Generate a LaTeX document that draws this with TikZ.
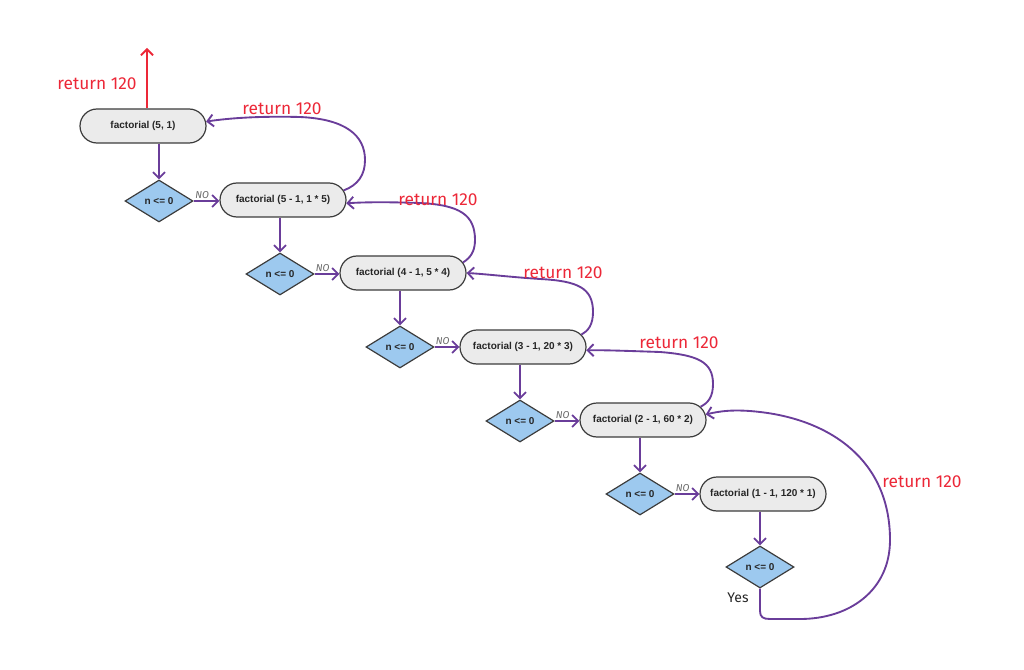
\documentclass[tikz,border=0pt]{standalone}
\usepackage{fontspec}
\setmainfont{Liberation Sans}
\newfontfamily\hand{Fira Sans}
\usetikzlibrary{shapes.misc,shapes.geometric,arrows.meta}
\definecolor{flowpurple}{RGB}{106,61,154}
\definecolor{retred}{RGB}{236,40,56}
\definecolor{termfill}{RGB}{235,235,235}
\definecolor{decfill}{RGB}{157,201,239}
\definecolor{edgegray}{RGB}{60,60,60}
\begin{document}
\begin{tikzpicture}[x=0.75pt,y=-0.75pt,
 term/.style={rounded rectangle, draw=edgegray, fill=termfill, line width=0.9pt,
   minimum width=94.5pt, minimum height=25.5pt, inner sep=0pt,
   font=\fontsize{7.5}{9}\selectfont\bfseries, text=black!85},
 dec/.style={diamond, draw=edgegray, fill=decfill, line width=0.9pt,
   minimum width=51pt, minimum height=31.5pt, inner sep=0pt,
   font=\fontsize{7.5}{9}\selectfont\bfseries, text=black!85},
 flow/.style={draw=flowpurple, line width=1.4pt, -{Straight Barb[length=4.5pt,width=9pt]}},
 retarrow/.style={draw=retred, line width=1.4pt, -{Straight Barb[length=4.5pt,width=9pt]}},
 ret/.style={text=retred, font=\hand\fontsize{13}{15}\selectfont, inner sep=0pt},
 nolab/.style={text=black!60, font=\hand\itshape\fontsize{7.5}{8}\selectfont, inner sep=1pt},
 yeslab/.style={text=black!85, font=\hand\fontsize{10.5}{12}\selectfont, inner sep=0pt}
]
\useasboundingbox (0,0) rectangle (1024,670);

% terminators
\node[term] (t1) at (143,126) {factorial (5, 1)};
\node[term] (t2) at (283,200) {factorial (5 - 1, 1 * 5)};
\node[term] (t3) at (403,273) {factorial (4 - 1, 5 * 4)};
\node[term] (t4) at (523,347) {factorial (3 - 1, 20 * 3)};
\node[term] (t5) at (643,420) {factorial (2 - 1, 60 * 2)};
\node[term] (t6) at (763,494) {factorial (1 - 1, 120 * 1)};

% decisions
\node[dec] (d1) at (159,201) {n <= 0};
\node[dec] (d2) at (280,274) {n <= 0};
\node[dec] (d3) at (400,347) {n <= 0};
\node[dec] (d4) at (520,421) {n <= 0};
\node[dec] (d5) at (640,494) {n <= 0};
\node[dec] (d6) at (760,567) {n <= 0};

% top return
\coordinate (top) at (147,48);
\draw[retarrow] (t1.north -| top) -- (top);
\node[ret] (r0) at (97,84) {return 120};

% down arrows
\draw[flow] (t1.south -| d1.north) -- (d1.north);
\draw[flow] (t2.south -| d2.north) -- (d2.north);
\draw[flow] (t3.south -| d3.north) -- (d3.north);
\draw[flow] (t4.south -| d4.north) -- (d4.north);
\draw[flow] (t5.south -| d5.north) -- (d5.north);
\draw[flow] (t6.south -| d6.north) -- (d6.north);

% NO arrows
\draw[flow] (d1.east) -- node[nolab, above, pos=0.33] {NO} (d1.east -| t2.west);
\draw[flow] (d2.east) -- node[nolab, above, pos=0.33] {NO} (d2.east -| t3.west);
\draw[flow] (d3.east) -- node[nolab, above, pos=0.33] {NO} (d3.east -| t4.west);
\draw[flow] (d4.east) -- node[nolab, above, pos=0.33] {NO} (d4.east -| t5.west);
\draw[flow] (d5.east) -- node[nolab, above, pos=0.33] {NO} (d5.east -| t6.west);

% return arrows
\draw[flow] (t2.9) .. controls (358,185) and (365,175) .. (365,160)
  .. controls (365,135) and (345,119) .. (300,117)
  .. controls (260,116) and (230,118) .. (t1.4);
\draw[flow] (t3.10) .. controls (470,258) and (475,252) .. (475,240)
  .. controls (475,215) and (460,205) .. (420,203)
  .. controls (390,202) and (365,202) .. (t2.-3);
\draw[flow] (t4.12) .. controls (588,331) and (593,325) .. (593,312)
  .. controls (593,288) and (578,281) .. (540,279)
  .. controls (510,277) and (485,274) .. (t3.east);
\draw[flow] (t5.13) .. controls (708,403) and (713,397) .. (713,384)
  .. controls (713,362) and (698,355) .. (660,352)
  .. controls (630,351) and (605,350) .. (t4.-3);
\draw[flow] (d6.south) -- (760,611) .. controls (760,617) and (763,619) .. (770,619)
  -- (800,619) .. controls (850,619) and (890,590) .. (890,540)
  .. controls (890,460) and (830,420) .. (760,412)
  .. controls (735,409) and (720,411) .. (t5.5);

% return labels
\node[ret] (r1) at (282,109) {return 120};
\node[ret] (r2) at (438,200) {return 120};
\node[ret] (r3) at (563,273) {return 120};
\node[ret] (r4) at (679,343) {return 120};
\node[ret] (r5) at (922,482) {return 120};

\node[yeslab] (yes) at (738,598) {Yes};
\end{tikzpicture}
\end{document}
